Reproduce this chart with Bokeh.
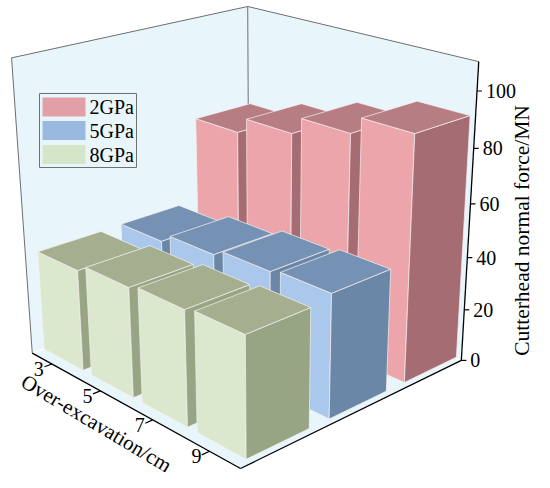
import numpy as np
from bokeh.plotting import figure
from bokeh.models import Range1d, ColumnDataSource
from bokeh.embed import file_html
from bokeh.resources import INLINE

# ---------------- data ----------------
categories = ["3", "5", "7", "9"]            # Over-excavation / cm
series = ["2GPa", "5GPa", "8GPa"]
force_2gpa = [71.5, 77.6, 84.2, 90.7]
force_5gpa = [38.8, 42.1, 44.5, 45.7]
force_8gpa = [38.5, 41.2, 42.6, 43.7]
z_ticks = [0, 20, 40, 60, 80, 100]
z_max = 110

# ---------------- style ----------------
FONT = "Liberation Serif"
front_col = {"2GPa": "#eca5aa", "5GPa": "#aac7ec", "8GPa": "#dbe8cd"}
top_col = {"2GPa": "#b67d83", "5GPa": "#7592b4", "8GPa": "#a3af8e"}
side_col = {"2GPa": "#a66c73", "5GPa": "#6b87a8", "8GPa": "#97a585"}
legend_col = {"2GPa": "#e0a0a5", "5GPa": "#9ab9e0", "8GPa": "#d5e5c8"}
wall_col = "#e8f6fc"

# ---------------- camera (box calibration, page pixels) ----------------
calib_3d = [(0, 0, 0), (1, 0, 0), (1, 1, 0), (1, 1, 1), (0, 1, 1), (0, 0, 1)] + \
           [(1, 1, t / z_max) for t in (20, 40, 60, 80, 100)]
calib_2d = [(32, 351), (242, 467), (462, 358), (479, 58), (249, 5), (12, 57),
            (464.8, 309), (467.7, 257), (470.8, 203), (474, 147), (477.2, 90)]
P3 = np.asarray(calib_3d, float)
P2 = np.asarray(calib_2d, float)
cm = P2.mean(0)
cs = P2.std()
q = (P2 - cm) / cs
rows = []
for (X, Y, Z), (x, y) in zip(P3, q):
    rows.append([X, Y, Z, 1, 0, 0, 0, 0, -x * X, -x * Y, -x * Z, -x])
    rows.append([0, 0, 0, 0, X, Y, Z, 1, -y * X, -y * Y, -y * Z, -y])
_, _, vt = np.linalg.svd(np.array(rows))
M = vt[-1].reshape(3, 4)


def proj(pts):
    pts = np.atleast_2d(np.asarray(pts, float))
    h = np.c_[pts, np.ones(len(pts))] @ M.T
    xy = h[:, :2] / h[:, 2:3] * cs + cm
    return xy[:, 0], -xy[:, 1]          # plot coords: y upward


p = figure(width=534, height=472, output_backend="svg", toolbar_location=None,
           x_range=Range1d(1, 535), y_range=Range1d(-471, 1),
           min_border=0, outline_line_color=None)
p.axis.visible = False
p.grid.visible = False
p.background_fill_color = "white"
p.border_fill_color = "white"

# ---------------- walls & floor ----------------
walls = [
    [(0, 0, 0), (1, 0, 0), (1, 1, 0), (0, 1, 0)],   # floor
    [(0, 0, 0), (0, 1, 0), (0, 1, 1), (0, 0, 1)],   # left wall
    [(0, 1, 0), (1, 1, 0), (1, 1, 1), (0, 1, 1)],   # back wall
]
wx, wy = zip(*[proj(w) for w in walls])
p.patches([list(a) for a in wx], [list(b) for b in wy], fill_color=wall_col, line_color=None)
for a, b in [((0, 0, 0), (0, 1, 0)), ((0, 1, 0), (1, 1, 0))]:
    x, y = proj([a, b])
    p.line(x, y, line_color="white", line_width=1.5)
for a, b in [((0, 0, 0), (0, 0, 1)), ((0, 0, 1), (0, 1, 1)), ((0, 1, 1), (1, 1, 1)),
             ((0, 1, 1), (0, 1, 0))]:
    x, y = proj([a, b])
    p.line(x, y, line_color="#6e6e6e", line_width=1)

# ---------------- bars ----------------
values = {"2GPa": force_2gpa, "5GPa": force_5gpa, "8GPa": force_8gpa}
u_pitch, u_first, bar_w = 0.2537, 0.003, 0.21
v_pitch, v_first, bar_d = 0.349, 0.047, 0.262
fx, fy, fc = [], [], []
n_v = len(series)
for j, s in enumerate(series):              # back row first
    v0 = v_first + (n_v - 1 - j) * v_pitch
    v1 = v0 + bar_d
    for i, c in enumerate(categories):
        u0 = u_first + i * u_pitch
        u1 = u0 + bar_w
        h = values[s][i] / z_max
        for pts, col in [([(u0, v0, 0), (u1, v0, 0), (u1, v0, h), (u0, v0, h)], front_col[s]),
                         ([(u1, v0, 0), (u1, v1, 0), (u1, v1, h), (u1, v0, h)], side_col[s]),
                         ([(u0, v0, h), (u1, v0, h), (u1, v1, h), (u0, v1, h)], top_col[s])]:
            x, y = proj(pts)
            fx.append(list(x))
            fy.append(list(y))
            fc.append(col)
p.patches("xs", "ys", source=ColumnDataSource(dict(xs=fx, ys=fy, c=fc)),
          fill_color="c", line_color="#f6eeee", line_width=0.8, line_alpha=0.9)

# ---------------- axes ----------------
for a, b in [((0, 0, 0), (1, 0, 0)), ((1, 0, 0), (1, 1, 0)), ((1, 1, 0), (1, 1, 1))]:
    x, y = proj([a, b])
    p.line(x, y, line_color="black", line_width=1.3)

zx, zy = proj([(1, 1, t / z_max) for t in z_ticks])
p.segment(x0=zx, y0=zy, x1=zx + 5, y1=zy, line_color="black", line_width=1.2)
p.text(x=zx + 9, y=zy, text=[str(t) for t in z_ticks], text_font=FONT,
       text_font_size="20px", text_baseline="middle", text_align="left", text_color="black")
p.text(x=[522], y=[-229], text=["Cutterhead normal force/MN"], angle=np.pi / 2,
       text_font=FONT, text_font_size="21.5px", text_baseline="middle", text_align="center",
       text_color="black")

ucs = [u_first + i * u_pitch + bar_w / 2 for i in range(len(categories))]
tx0, ty0 = proj([(u, 0, 0) for u in ucs])
tx1, ty1 = proj([(u, -0.03, 0) for u in ucs])
p.segment(x0=tx0, y0=ty0, x1=tx1, y1=ty1, line_color="black", line_width=1.2)
p.text(x=tx0 - 13, y=ty0 - 5, text=categories, text_font=FONT, text_font_size="20px",
       text_baseline="middle", text_align="center", text_color="black")
ax0, ay0 = proj([(0, 0, 0), (1, 0, 0)])
ang = np.arctan2(ay0[1] - ay0[0], ax0[1] - ax0[0])
mx, my = proj([(0.5, 0, 0)])
p.text(x=mx - 32, y=my - 17, text=["Over-excavation/cm"], angle=ang - 0.03,
       text_font=FONT, text_font_size="21px", text_baseline="middle", text_align="center",
       text_color="black")

# ---------------- legend ----------------
p.quad(left=[40], right=[137], top=[-92], bottom=[-166], fill_color=None,
       line_color="#707070", line_width=1)
rows_y = [105.5, 129, 153]
p.quad(left=[43] * 3, right=[86] * 3, top=[-(r - 9.5) for r in rows_y],
       bottom=[-(r + 9.5) for r in rows_y], fill_color=[legend_col[s] for s in series],
       line_color=None)
p.text(x=[90] * 3, y=[-r for r in rows_y], text=series, text_font=FONT,
       text_font_size="20px", text_baseline="middle", text_align="left", text_color="black")

open("out.html", "w").write(file_html(p, INLINE))
